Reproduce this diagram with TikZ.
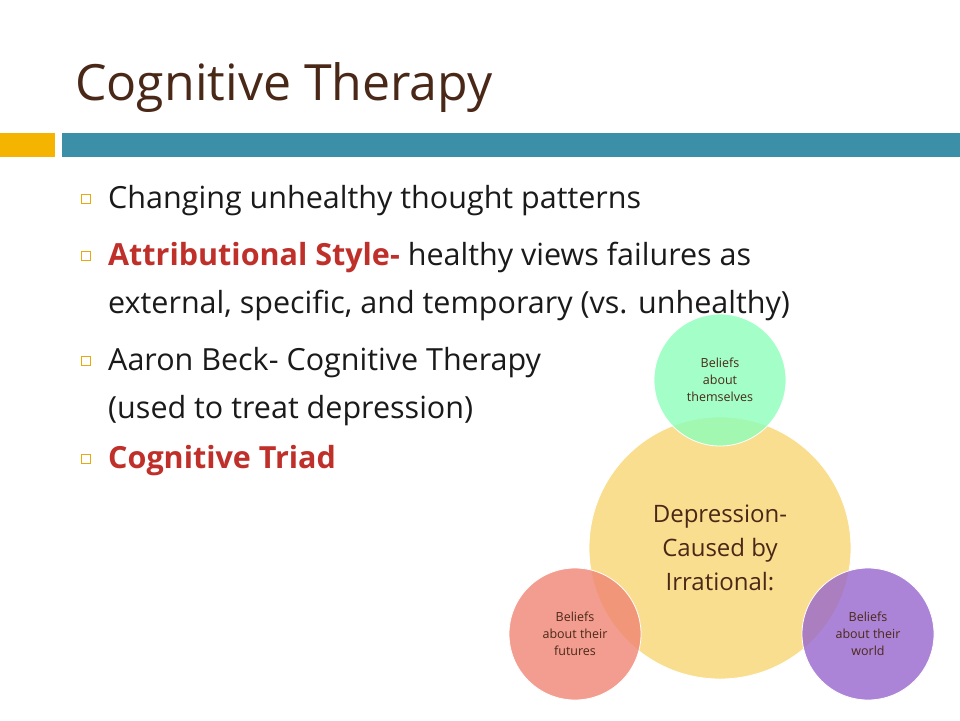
\documentclass[tikz,border=0pt]{standalone}
\usepackage{fontspec}
\setmainfont{Open Sans}
\definecolor{brownt}{HTML}{4A2818}
\definecolor{teal}{HTML}{3B8FA6}
\definecolor{orng}{HTML}{F4B400}
\definecolor{redt}{HTML}{C0302A}
\definecolor{txt}{HTML}{1A1A1A}
\tikzset{
  bul/.style={draw=orng!80!brown,line width=0.9pt,minimum size=9pt,inner sep=0pt},
  btxt/.style={anchor=base west,font=\fontsize{30.5}{34}\selectfont,text=txt,inner sep=0pt,align=left},
  circ/.style={circle,draw=white,line width=0.8pt,fill opacity=0.8,text opacity=1,text=brownt,align=center,inner sep=0pt,font=\fontsize{12.5}{17}\selectfont},
}
\begin{document}
\begin{tikzpicture}[x=1pt,y=-1pt]
\useasboundingbox (0,0) rectangle (960,720);
\fill[white] (0,0) rectangle (960,720);
\node[anchor=base west,inner sep=0pt,text=brownt,font=\fontsize{50}{54}\selectfont] (title) at (75,100) {Cognitive Therapy};
\fill[orng] (0,133) rectangle (55,157);
\fill[teal] (62,133) rectangle (960,157);
\node[bul] (b1) at (86,199) {};
\node[btxt] (t1) at (108,208) {Changing unhealthy thought patterns};
\node[bul] (b2) at (86,256) {};
\node[btxt] (t2) at (108,265) {\textcolor{redt}{\textbf{Attributional Style-}} healthy views failures as};
\node[btxt] (t2b) at (108,313) {external, specific, and temporary (vs. unhealthy)};
\node[bul] (b3) at (86,361) {};
\node[btxt] (t3) at (108,370) {Aaron Beck- Cognitive Therapy};
\node[btxt] (t3b) at (108,418) {(used to treat depression)};
\node[bul] (b4) at (86,459) {};
\node[btxt] (t4) at (108,468) {\textcolor{redt}{\textbf{Cognitive Triad}}};
\node[circ,fill=orng!55,minimum size=262pt,font=\fontsize{24}{34}\selectfont] (c) at (720,548) {Depression-\\Caused by\\Irrational:};
\node[circ,fill=green!60!cyan!45,minimum size=132pt] (g) at (720,380) {Beliefs\\about\\themselves};
\node[circ,fill=red!60!brown!60,minimum size=132pt] (r) at (575,634) {Beliefs\\about their\\futures};
\node[circ,fill=violet!65!blue!60,minimum size=132pt] (p) at (868,634) {Beliefs\\about their\\world};
\end{tikzpicture}
\end{document}
